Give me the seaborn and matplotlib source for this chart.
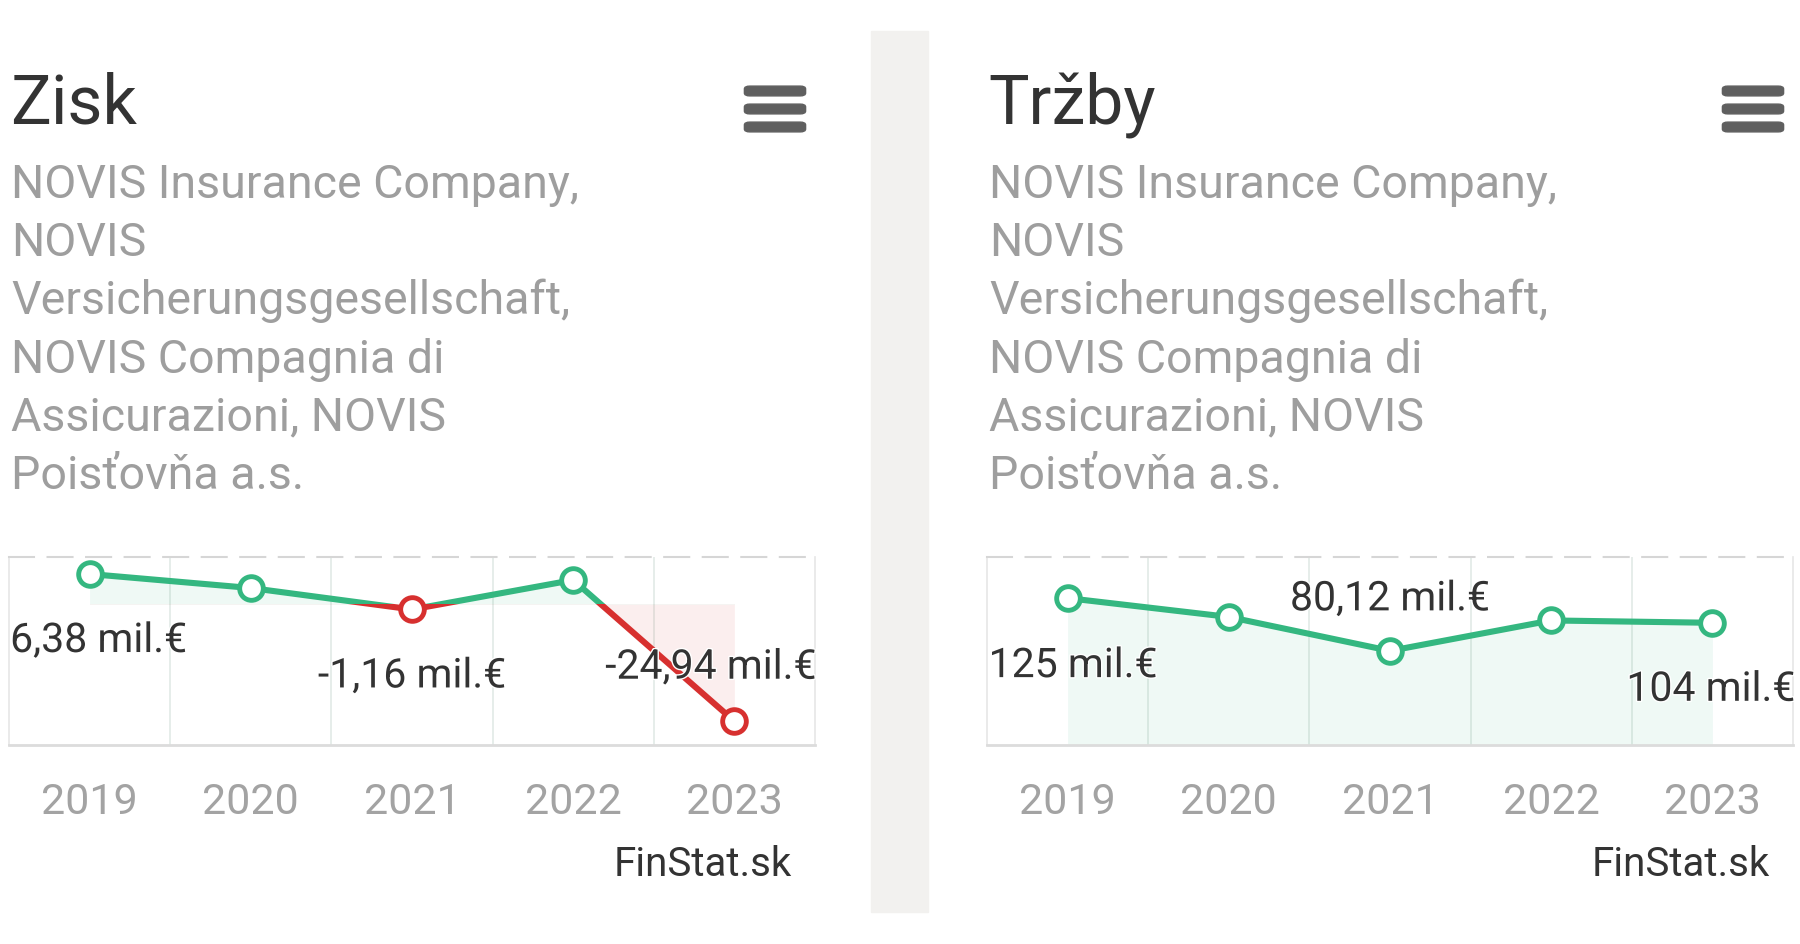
import numpy as np
import pandas as pd
import seaborn as sns
import matplotlib.pyplot as plt
import matplotlib.patheffects as pe
from matplotlib.patches import Rectangle, FancyBboxPatch

# data
years = ["2019", "2020", "2021", "2022", "2023"]
zisk = [6.38, 3.4, -1.16, 5.1, -24.94]
trzby = [125, 109, 80.12, 106, 104]
zisk_labels = ["6,38 mil.€", None, "-1,16 mil.€", None, "-24,94 mil.€"]
trzby_labels = ["125 mil.€", None, "80,12 mil.€", None, "104 mil.€"]
company = ["NOVIS Insurance Company,", "NOVIS", "Versicherungsgesellschaft,",
           "NOVIS Compagnia di", "Assicurazioni, NOVIS", "Poisťovňa a.s."]

W, H = 1800, 945
GREEN = "#34b780"
RED = "#d7302f"
DARK = "#333333"

sns.set_theme(style="white")
plt.rcParams['font.family'] = ['Roboto', 'DejaVu Sans']

fig = plt.figure(figsize=(W / 100, H / 100), dpi=100)
fig.patch.set_facecolor("white")

# grey separator between the two cards
fig.add_artist(Rectangle((871 / W, 1 - 913 / H), 57 / W, 881 / H,
                         transform=fig.transFigure, color="#f2f1ef", zorder=0))


def card(x0, title, values, labels, label_pos, ylim, baseline, split_colors):
    ax = fig.add_axes([(x0 + 9) / W, 1 - 746 / H, 806 / W, 188 / H])
    df = pd.DataFrame({"year": years, "value": values})
    df["pos"] = np.arange(len(years))
    ax.set_xlim(-0.5, len(years) - 0.5)
    ax.set_ylim(*ylim)

    # fill between line and baseline
    ax.fill_between(df["pos"], df["value"], baseline, color=GREEN, alpha=0.08,
                    lw=0, zorder=1)
    fills = [ax.collections[-1]]

    sns.lineplot(data=df, x="pos", y="value", ax=ax, color=GREEN, lw=4.4,
                 zorder=3, legend=False)
    if split_colors:
        top = Rectangle((-1, 0), 10, 1e4, transform=ax.transData)
        bot = Rectangle((-1, -1e4), 10, 1e4, transform=ax.transData)
        ax.lines[-1].set_clip_path(top)
        fills[0].set_clip_path(top)
        sns.lineplot(data=df, x="pos", y="value", ax=ax, color=RED, lw=4.4,
                     zorder=3, legend=False)
        ax.lines[-1].set_clip_path(bot)
        ax.fill_between(df["pos"], df["value"], baseline, color=RED, alpha=0.08,
                        lw=0, zorder=1)
        ax.collections[-1].set_clip_path(bot)

    neg = df["value"] < 0 if split_colors else df["value"] < -1e9
    for mask, col in [(~neg, GREEN), (neg, RED)]:
        sub = df[mask]
        if len(sub):
            sns.scatterplot(data=sub, x="pos", y="value", ax=ax, s=290,
                            facecolor="white", edgecolor=col, linewidth=3.5,
                            zorder=5, legend=False)
            ax.collections[-1].set_facecolor("white")
            ax.collections[-1].set_edgecolor(col)

    for i, lab in enumerate(labels):
        if lab is None:
            continue
        ha, dx, dy = label_pos[i]
        ax.annotate(lab, (i, values[i]), xytext=(dx, dy - 4.5), textcoords="offset pixels",
                    ha=ha, va="center", fontsize=29.5, color=DARK, zorder=6,
                    path_effects=[pe.withStroke(linewidth=2, foreground="white")])

    # category boundaries
    for b in np.arange(0.5, len(years) - 1, 1.0):
        ax.axvline(b, color="#e2eae6", lw=1.2, zorder=0)

    ax.set_xticks(df["pos"])
    ax.set_xticklabels(years)
    ax.set_yticks([])
    ax.tick_params(axis="x", length=0, pad=26, labelsize=31, labelcolor="#a3a3a3")
    ax.set_xlabel("")
    ax.set_ylabel("")
    for s in ["left", "right"]:
        ax.spines[s].set_color("#e6e6e6")
        ax.spines[s].set_linewidth(1.2)
    ax.spines["top"].set_color("#d6d6d6")
    ax.spines["top"].set_linewidth(1.5)
    ax.spines["top"].set_linestyle((0, (12, 6.5)))
    ax.spines["bottom"].set_color("#dcdcdc")
    ax.spines["bottom"].set_linewidth(2)
    ax.set_facecolor("none")

    # header
    fig.text((x0 + 10) / W, 1 - 123 / H, title, fontsize=49, color=DARK, va="baseline")
    for k, line in enumerate(company):
        fig.text((x0 + 11) / W, 1 - (198 + 58.2 * k) / H, line, fontsize=33.5,
                 color="#9e9e9e", va="baseline")
    fig.text((x0 + 792) / W, 1 - 876 / H, "FinStat.sk", fontsize=29, color=DARK,
             ha="right", va="baseline")
    # menu icon
    for yb in [87, 105, 123]:
        fig.add_artist(FancyBboxPatch(((x0 + 748) / W, 1 - (yb + 8) / H), 54 / W, 6 / H,
                                      boxstyle="round,pad=0.002,rounding_size=0.003",
                                      transform=fig.transFigure, color="#5f5f5f"))
    return ax


card(0, "Zisk", zisk, zisk_labels,
     [("left", -79.5, -62), None, ("center", 0, -62), None, ("right", 82, 58.5)],
     (-30, 10), 0, True)
card(978, "Tržby", trzby, trzby_labels,
     [("left", -79, -63), None, ("center", 0, 56.5), None, ("right", 83, -62)],
     (0, 160), 0, False)

fig.savefig("out.png", dpi=100)
